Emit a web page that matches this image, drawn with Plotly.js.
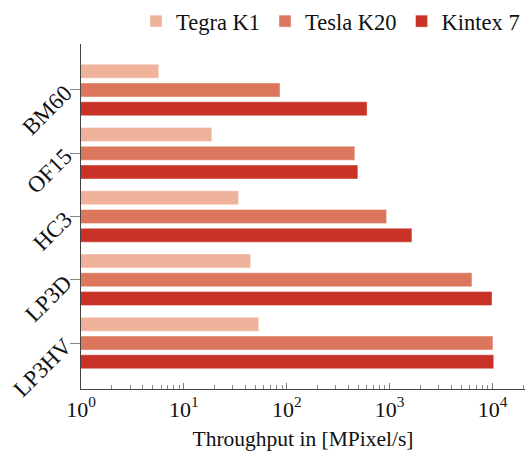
<!DOCTYPE html>
<html>
<head>
<meta charset="utf-8">
<script src="https://cdn.plot.ly/plotly-3.0.1.min.js"></script>
<style>html,body{margin:0;padding:0;background:#fff;}</style>
</head>
<body>
<div id="chart" style="width:531px;height:455px;"></div>
<script>
const categories = ["BM60", "OF15", "HC3", "LP3D", "LP3HV"];
const seriesNames = ["Tegra K1", "Tesla K20", "Kintex 7"];
const tegraK1 = [5.7, 18.7, 34, 44.6, 53.4];
const teslaK20 = [86, 459, 934, 6310, 10100];
const kintex7 = [604, 491, 1647, 9890, 10280];
const xTickVals = [1, 10, 100, 1000, 10000];
const xTickText = ["10<sup>0</sup>", "10<sup>1</sup>", "10<sup>2</sup>", "10<sup>3</sup>", "10<sup>4</sup>"];
const colors = ["#efb39c", "#dc775e", "#c93227"];
const FONT = "'Liberation Serif', 'Times New Roman', serif";

const allSeries = [tegraK1, teslaK20, kintex7];
const traces = allSeries.map((vals, i) => ({
  type: "bar",
  orientation: "h",
  name: seriesNames[i],
  y: categories,
  x: vals,
  marker: {color: colors[i], line: {color: "rgba(255,255,255,0.5)", width: 0.8}},
  hoverinfo: "x+name"
}));

const layout = {
  width: 531, height: 455,
  margin: {l: 81, r: 6, t: 44, b: 66},
  paper_bgcolor: "#fff", plot_bgcolor: "#fff",
  barmode: "group",
  bargap: 0.11,
  bargroupgap: 0.26,
  font: {family: FONT, size: 21, color: "#111"},
  showlegend: true,
  legend: {
    orientation: "h", x: 1.0, xanchor: "right", y: 1.0, yref: "container", yanchor: "top",
    font: {family: FONT, size: 22.5, color: "#111"},
    traceorder: "normal", itemwidth: 30, tracegroupgap: 0,
    bgcolor: "rgba(0,0,0,0)"
  },
  xaxis: {
    type: "log",
    range: [0, 4.316],
    tickvals: xTickVals, ticktext: xTickText,
    ticks: "inside", ticklen: 6, tickcolor: "#777", tickwidth: 1,
    minor: {ticks: "inside", ticklen: 4, tickcolor: "#888", tickwidth: 1, dtick: "D1", showgrid: false},
    showline: true, linecolor: "#444", linewidth: 1.2,
    showgrid: false, zeroline: false,
    tickfont: {family: FONT, size: 22, color: "#111"},
    title: {text: "Throughput in [MPixel/s]", font: {family: FONT, size: 21.5, color: "#111"}, standoff: 10}
  },
  yaxis: {
    type: "category",
    range: [4.727, -0.727],
    ticks: "outside", ticklen: 10, tickcolor: "#888", tickwidth: 1,
    showline: true, linecolor: "#444", linewidth: 1.2,
    showgrid: false, zeroline: false,
    tickangle: -45,
    tickfont: {family: FONT, size: 23, color: "#111"}
  }
};

Plotly.newPlot("chart", traces, layout, {displayModeBar: false, staticPlot: true});
</script>
</body>
</html>
